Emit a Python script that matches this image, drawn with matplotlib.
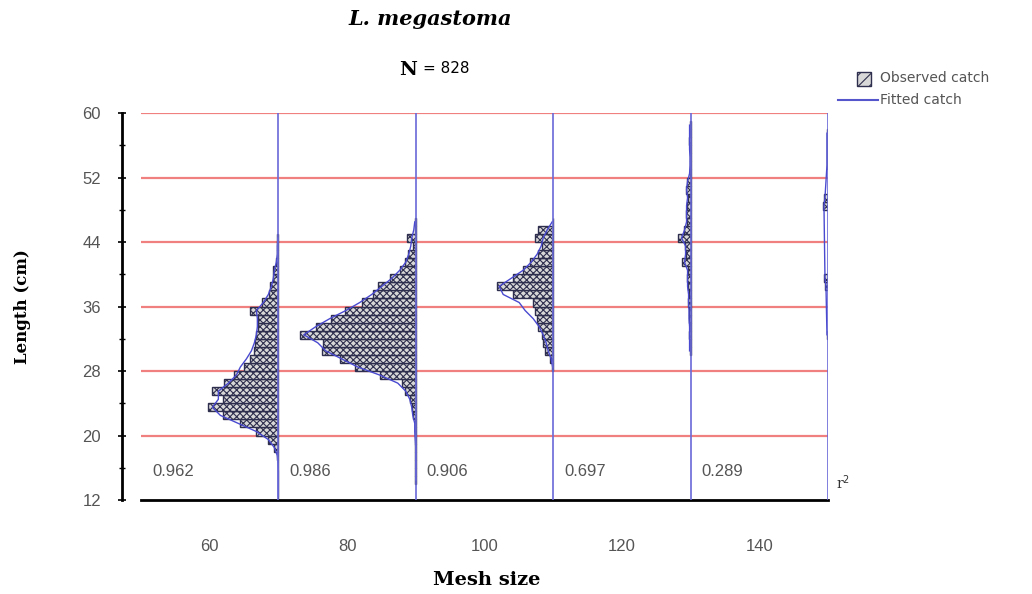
# Length frequency of L. megastoma by mesh size (observed vs fitted catch)

import matplotlib.pyplot as plt
import numpy as np
from matplotlib.patches import Rectangle
from matplotlib.lines import Line2D

# Mesh sizes and r^2 of the fit for each mesh
mesh = [60, 80, 100, 120, 140]
r2 = ["0.962", "0.986", "0.906", "0.697", "0.289"]

# Observed catch per 1 cm length class (class start, catch)
obs_len_60 = list(range(12, 45))
obs_60 = [0.3, 0.3, 0.3, 0.3, 0.5, 1, 4, 10, 22, 38, 55, 70, 55, 66, 54, 44, 34,
          28, 24, 23, 22, 20, 20, 28, 16, 9, 8, 5, 5, 2, 1, 1, 1]
fit_60 = [0, 0, 0, 0, 0.3, 1, 4, 10, 22, 40, 58, 66, 60, 60, 50, 42, 38,
          32, 27, 24, 22, 21, 21, 22, 15, 10, 7, 5, 4, 2, 1, 1, 0.5]

obs_len_80 = list(range(14, 47))
obs_80 = [0.3, 0.3, 0.3, 0.3, 0.3, 0.3, 1, 1, 3, 4, 6, 11, 14, 36, 61, 76, 94,
          93, 116, 100, 85, 71, 54, 43, 38, 26, 16, 11, 8, 3, 9, 1, 1]
fit_80 = [0, 0, 0, 0, 0, 0.5, 1, 1, 3, 4, 6, 10, 18, 36, 58, 74, 90,
          98, 112, 100, 86, 70, 56, 44, 34, 24, 16, 10, 7, 5, 4, 2, 1]

obs_len_100 = list(range(28, 47))
obs_100 = [1, 3, 8, 10, 11, 15, 16, 18, 20, 40, 56, 40, 30, 23, 15, 11, 18,
           15, 0.5]
fit_100 = [0.5, 2, 5, 7, 10, 14, 20, 28, 34, 50, 54, 42, 30, 22, 16, 12, 10,
           6, 1]

obs_len_120 = list(range(30, 59))
obs_120 = [1, 1, 1.5, 1, 2, 1.5, 3, 2, 3, 4, 3, 9, 5, 6, 13, 7, 4, 5, 4, 3,
           5, 4, 1, 0.3, 0.3, 1, 1.5, 1, 1]
fit_120 = [1, 1, 1, 1, 1.5, 1.5, 2, 2, 3, 3, 3, 6, 5, 5, 9, 6, 4, 4, 4, 3,
           4, 3, 1, 0.5, 0.5, 1, 1, 1, 1]

obs_len_140 = [32, 38, 39, 48, 49, 53, 54, 55, 56, 57]
obs_140 = [1, 3, 4, 5, 4, 1, 1, 1, 1, 1]
fit_140 = [1, 2, 3, 4, 3, 1, 1, 1, 1, 1]

obs_len = [obs_len_60, obs_len_80, obs_len_100, obs_len_120, obs_len_140]
obs = [obs_60, obs_80, obs_100, obs_120, obs_140]
fit = [fit_60, fit_80, fit_100, fit_120, fit_140]

# catch -> width in mesh units
scale = 1 / 6.87

plt.rcParams["hatch.linewidth"] = 0.8

fig = plt.figure(figsize=(10.32, 5.94), dpi=100)
ax = fig.add_axes([0.1366, 0.1582, 0.6657, 0.6515])

ax.set_xlim(50, 150)
ax.set_ylim(12, 60)

# Red grid lines
for yv in [20, 28, 36, 44, 52, 60]:
    ax.axhline(yv, color="#f08080", lw=1.6, zorder=1)

# Panels
for i in range(len(mesh)):
    edge = mesh[i] + 10
    w = np.array(obs[i]) * scale
    ax.barh(obs_len[i], w, left=edge - w, height=1, align="edge",
            facecolor="#d8d8d8", edgecolor="#2e2e4e", hatch="xxxxx",
            linewidth=1.0, zorder=2)
    f = np.array(fit[i]) * scale
    yc = np.array(obs_len[i]) + 0.5
    ax.plot(edge - f, yc, color="#4a4ad0", lw=1, zorder=3)
    ax.axvline(edge, color="#6a6ad8", lw=1.2, zorder=4)
    ax.text(mesh[i] - 8.4, 15.6, r2[i], fontsize=12, color="#555555",
            ha="left", va="center", family="Liberation Sans")

fig.text(0.81, 0.188, "r$^2$", fontsize=10, color="#333333", family="DejaVu Serif",
         va="center")

# Axes styling
ax.spines["top"].set_visible(False)
ax.spines["right"].set_visible(False)
ax.spines["left"].set_position(("outward", 13.7))
ax.spines["left"].set_linewidth(2)
ax.spines["bottom"].set_linewidth(2)
ax.spines["left"].set_bounds(12, 60)

ax.set_yticks(np.arange(12, 61, 8))
ax.set_yticks(np.arange(12, 61, 4), minor=True)
ax.tick_params(axis="y", which="major", direction="inout", length=6, width=1.2,
               labelsize=12, labelcolor="#555555", pad=12)
ax.tick_params(axis="y", which="minor", direction="inout", length=4, width=1)
ax.set_xticks(mesh)
ax.tick_params(axis="x", length=0, labelsize=12, labelcolor="#555555", pad=28)
for lab in ax.get_xticklabels() + ax.get_yticklabels():
    lab.set_family("Liberation Sans")

fig.text(0.022, 0.484, "Length (cm)", fontsize=12, fontweight="bold",
         family="DejaVu Serif", rotation=90, ha="center", va="center")
fig.text(0.472, 0.024, "Mesh size", fontsize=14, fontweight="bold",
         family="DejaVu Serif", ha="center", va="center")

# Titles
fig.text(0.417, 0.968, "L. megastoma", fontsize=15, fontweight="bold", style="italic",
         family="DejaVu Serif", ha="center", va="center")
fig.text(0.395, 0.882, "N", fontsize=14, fontweight="bold", family="DejaVu Serif",
         ha="center", va="center")
fig.text(0.41, 0.884, "= 828", fontsize=11, family="DejaVu Sans", ha="left", va="center")

# Legend (drawn by hand)
fig.add_artist(Rectangle((857 / 1032, 1 - 86 / 594), 14 / 1032, 14 / 594,
                         transform=fig.transFigure, facecolor="#d8d8d8",
                         edgecolor="#2e2e4e", hatch="///", linewidth=1))
fig.add_artist(Line2D([838 / 1032, 878 / 1032], [1 - 100 / 594, 1 - 100 / 594],
                      transform=fig.transFigure, color="#5555cc", lw=1.5))
fig.text(880 / 1032, 1 - 78 / 594, "Observed catch", fontsize=10, color="#555555",
         ha="left", va="center")
fig.text(880 / 1032, 1 - 100 / 594, "Fitted catch", fontsize=10, color="#555555",
         ha="left", va="center")

fig.savefig("out.png", dpi=100)
